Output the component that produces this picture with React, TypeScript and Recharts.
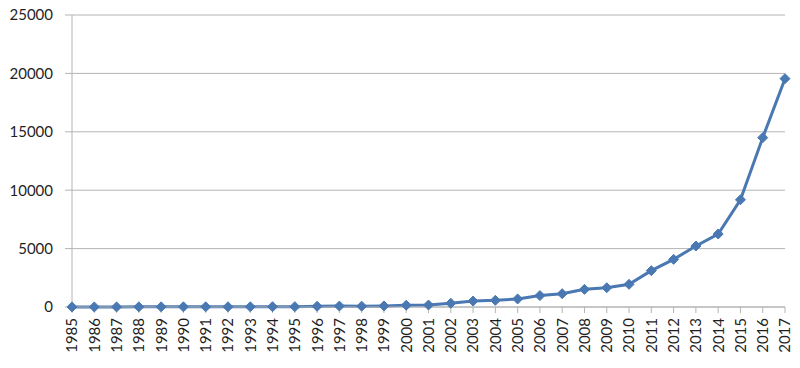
import React from 'react';
import { LineChart, Line, XAxis, YAxis, CartesianGrid } from 'recharts';

const years = [
  '1985', '1986', '1987', '1988', '1989', '1990', '1991', '1992', '1993', '1994', '1995',
  '1996', '1997', '1998', '1999', '2000', '2001', '2002', '2003', '2004', '2005', '2006',
  '2007', '2008', '2009', '2010', '2011', '2012', '2013', '2014', '2015', '2016', '2017',
];
const values = [
  5, 8, 10, 12, 14, 16, 18, 20, 22, 26, 30,
  60, 80, 70, 90, 150, 170, 320, 510, 570, 690, 980,
  1140, 1510, 1650, 1940, 3110, 4080, 5220, 6250, 9180, 14500, 19550,
];
const yTicks = [0, 5000, 10000, 15000, 20000, 25000];

const data = years.map((year, i) => ({ year, value: values[i] }));

const axisColor = '#b4b4b4';
const textColor = '#1f1f1f';
const lineColor = '#4a78b2';
const fontFamily = 'Lato, "Open Sans", sans-serif';

const Diamond = (props: any) => {
  const { cx, cy } = props;
  if (cx == null || cy == null) return null;
  const r = 5;
  return (
    <polygon
      points={`${cx},${cy - r} ${cx + r},${cy} ${cx},${cy + r} ${cx - r},${cy}`}
      fill={lineColor}
      stroke={lineColor}
      strokeWidth={1}
    />
  );
};

const YearTick = (props: any) => {
  const { x, y, payload } = props;
  return (
    <g transform={`translate(${x},${y})`}>
      <text
        transform="rotate(-90)"
        textAnchor="end"
        dy="0.36em"
        fill={textColor}
        fontSize={15}
        fontFamily={fontFamily}
      >
        {payload.value}
      </text>
    </g>
  );
};

export default function App() {
  return (
    <div style={{ position: 'absolute', left: 0, top: 0, background: '#fff' }}>
      <LineChart
        width={800}
        height={368}
        data={data}
        margin={{ top: 15, right: 15, left: 0, bottom: 0 }}
      >
        <CartesianGrid vertical={false} stroke={axisColor} strokeWidth={1} />
        <XAxis
          dataKey="year"
          interval={0}
          height={61}
          tickSize={6}
          tickMargin={5}
          axisLine={{ stroke: axisColor }}
          tickLine={{ stroke: axisColor }}
          tick={<YearTick />}
        />
        <YAxis
          width={72}
          domain={[0, 25000]}
          ticks={yTicks}
          interval={0}
          tickSize={7}
          tickMargin={12}
          axisLine={{ stroke: axisColor }}
          tickLine={{ stroke: axisColor }}
          tick={{ fill: textColor, fontSize: 15, fontFamily }}
        />
        <Line
          type="linear"
          dataKey="value"
          stroke={lineColor}
          strokeWidth={3}
          dot={<Diamond />}
          activeDot={false}
          isAnimationActive={false}
        />
      </LineChart>
    </div>
  );
}
